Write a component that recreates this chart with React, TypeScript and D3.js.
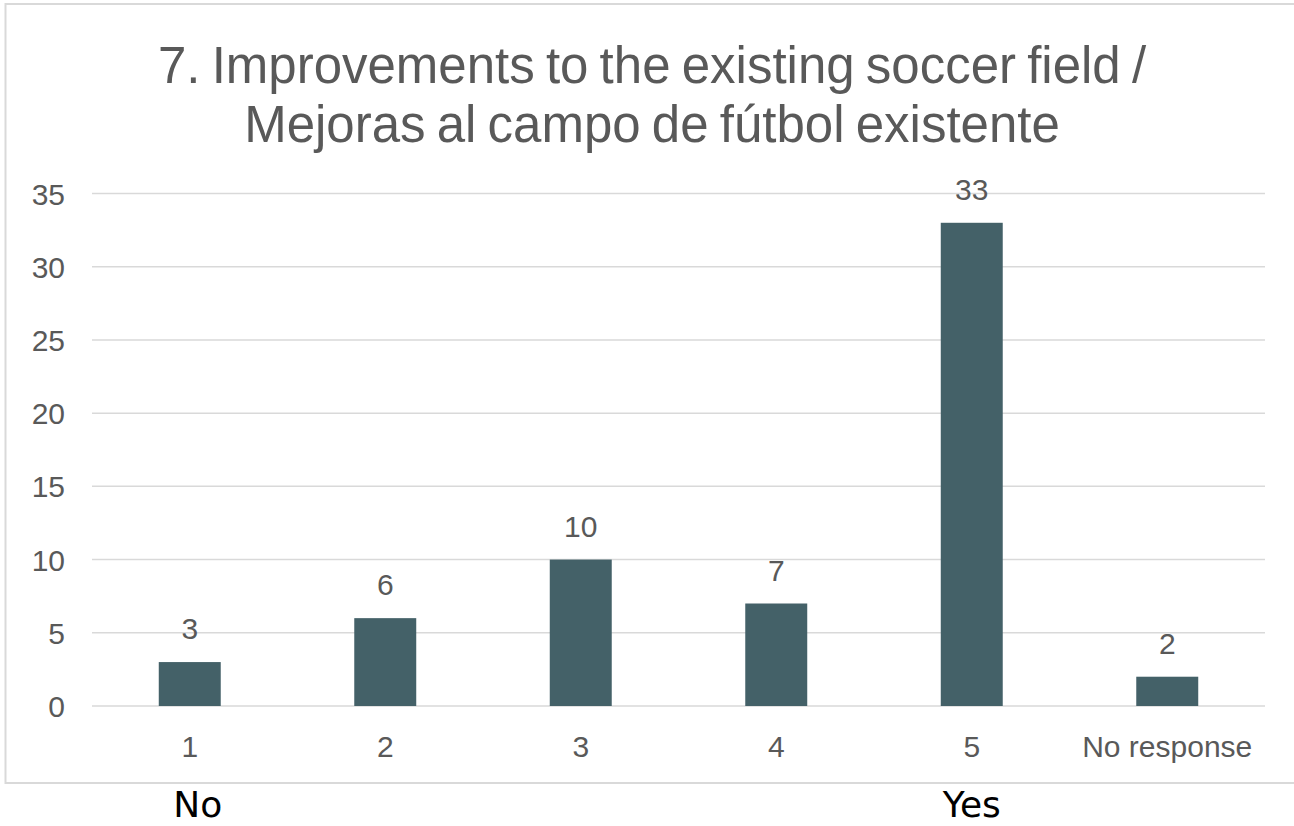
import { useEffect, useRef } from 'react'
import * as d3 from 'd3'

const categories = ['1', '2', '3', '4', '5', 'No response']
const counts = [3, 6, 10, 7, 33, 2]
const yTicks = [0, 5, 10, 15, 20, 25, 30, 35]
const titleLines = ['7. Improvements to the existing soccer field /', 'Mejoras al campo de fútbol existente']
const endLabels = [
  { category: '1', text: 'No' },
  { category: '5', text: 'Yes' },
]

const App = () => {
  const svgRef = useRef<SVGSVGElement | null>(null)

  useEffect(() => {
    if (!svgRef.current) return
    const svg = d3.select(svgRef.current)
    svg.selectAll('*').remove()

    const width = 1294
    const height = 826
    const plot = { left: 92, right: 1265, top: 193.5, bottom: 706 }
    const font = '"Liberation Sans", Arial, sans-serif'
    const gray = '#595959'

    svg.attr('width', width).attr('height', height)

    svg.append('rect').attr('width', width).attr('height', height).attr('fill', '#fff')

    // chart frame, right side runs off the page
    svg
      .append('rect')
      .attr('x', 5.5)
      .attr('y', 4)
      .attr('width', 1300)
      .attr('height', 779)
      .attr('fill', '#fff')
      .attr('stroke', '#d9d9d9')
      .attr('stroke-width', 2)

    svg
      .append('text')
      .attr('x', 652)
      .attr('font-family', font)
      .attr('font-size', 51)
      .attr('word-spacing', -3)
      .attr('fill', gray)
      .attr('text-anchor', 'middle')
      .selectAll('tspan')
      .data(titleLines)
      .enter()
      .append('tspan')
      .attr('x', 652)
      .attr('y', (_, i) => 83 + i * 59)
      .text((d) => d)

    const x = d3
      .scaleBand<string>()
      .domain(categories)
      .range([plot.left, plot.right])
      .paddingInner(0.683)
      .paddingOuter(0.683 / 2)

    const y = d3.scaleLinear().domain([0, 35]).range([plot.bottom, plot.top])

    svg
      .append('g')
      .selectAll('line')
      .data(yTicks)
      .enter()
      .append('line')
      .attr('x1', plot.left)
      .attr('x2', plot.right)
      .attr('y1', (d) => y(d))
      .attr('y2', (d) => y(d))
      .attr('stroke', '#d9d9d9')
      .attr('stroke-width', 1.5)

    svg
      .append('g')
      .selectAll('text')
      .data(yTicks)
      .enter()
      .append('text')
      .attr('x', 65)
      .attr('y', (d) => y(d) + 11)
      .attr('text-anchor', 'end')
      .attr('font-family', font)
      .attr('font-size', 30)
      .attr('fill', gray)
      .text((d) => d)

    const bars = categories.map((c, i) => ({ c, v: counts[i] }))

    svg
      .append('g')
      .selectAll('rect')
      .data(bars)
      .enter()
      .append('rect')
      .attr('x', (d) => x(d.c)!)
      .attr('y', (d) => y(d.v))
      .attr('width', x.bandwidth())
      .attr('height', (d) => y(0) - y(d.v))
      .attr('fill', '#446168')

    svg
      .append('g')
      .selectAll('text')
      .data(bars)
      .enter()
      .append('text')
      .attr('x', (d) => x(d.c)! + x.bandwidth() / 2)
      .attr('y', (d) => y(d.v) - 23)
      .attr('text-anchor', 'middle')
      .attr('font-family', font)
      .attr('font-size', 30)
      .attr('fill', gray)
      .text((d) => d.v)

    svg
      .append('g')
      .selectAll('text')
      .data(categories)
      .enter()
      .append('text')
      .attr('x', (d) => x(d)! + x.bandwidth() / 2)
      .attr('y', 757)
      .attr('text-anchor', 'middle')
      .attr('font-family', font)
      .attr('font-size', 30)
      .attr('fill', gray)
      .text((d) => d)

    // scale end notes below the frame
    svg
      .append('g')
      .selectAll('text')
      .data(endLabels)
      .enter()
      .append('text')
      .attr('x', (d) => x(d.category)! + x.bandwidth() / 2 + (d.text === 'No' ? 8 : 0))
      .attr('y', 817)
      .attr('text-anchor', 'middle')
      .attr('font-family', '"DejaVu Sans", sans-serif')
      .attr('font-size', 36)
      .attr('fill', '#000')
      .text((d) => d.text)
  }, [])

  return (
    <div style={{ position: 'absolute', left: 0, top: 0 }}>
      <svg ref={svgRef} style={{ display: 'block' }} />
    </div>
  )
}

export default App
